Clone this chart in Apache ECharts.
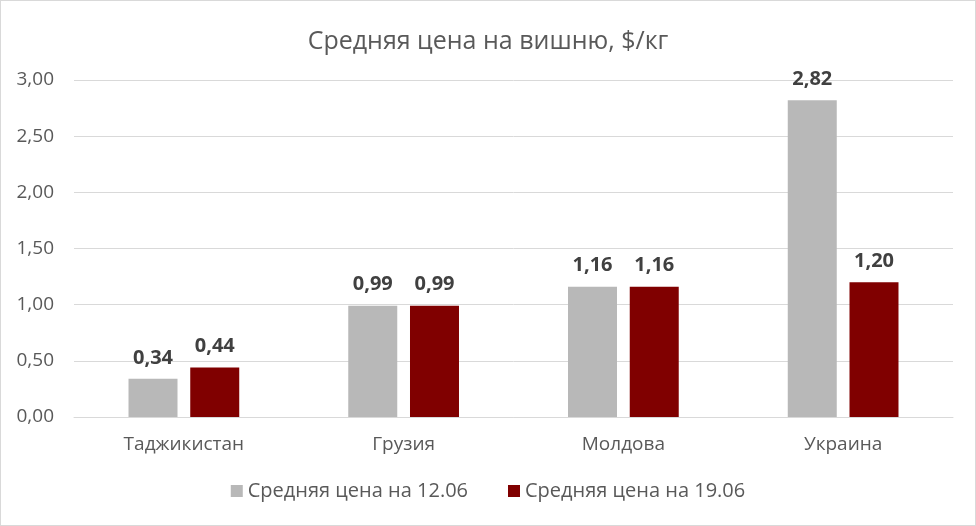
<!DOCTYPE html>
<html><head><meta charset="utf-8">
<script src="https://cdn.jsdelivr.net/npm/echarts@6/dist/echarts.min.js"></script>
<style>html,body{margin:0;padding:0;background:#fff}#c{width:976px;height:526px;box-sizing:border-box;border:1px solid #d9d9d9}</style>
</head><body><div id="c"></div>
<script>
const categories = ["Таджикистан", "Грузия", "Молдова", "Украина"];
const seriesNames = ["Средняя цена на 12.06", "Средняя цена на 19.06"];
const price1206 = [0.34, 0.99, 1.16, 2.82];
const price1906 = [0.44, 0.99, 1.16, 1.20];
const yTicks = [0, 0.5, 1, 1.5, 2, 2.5, 3];

const fmt = v => v.toFixed(2).replace('.', ',');
const FONT = 'Open Sans';
const labelStyle = { show: true, position: 'top', distance: 11, formatter: p => fmt(p.value),
  fontFamily: FONT, fontSize: 20, fontWeight: 'bold', color: '#404040' };
const chart = echarts.init(document.getElementById('c'));
chart.setOption({
  animation: false,
  textStyle: { fontFamily: FONT },
  title: { text: 'Средняя цена на вишню, $/кг', left: 'center', top: 23,
    textStyle: { fontFamily: FONT, fontSize: 25, fontWeight: 'normal', color: '#595959' } },
  legend: { bottom: 19, itemWidth: 12, itemHeight: 12, itemGap: 40, icon: 'rect',
    textStyle: { fontFamily: FONT, fontSize: 20, color: '#595959' }, data: seriesNames },
  grid: { left: 73, right: 22, top: 79, bottom: 108 },
  xAxis: { type: 'category', data: categories,
    axisLine: { lineStyle: { color: '#d9d9d9' } }, axisTick: { show: false },
    axisLabel: { fontFamily: FONT, fontSize: 19, color: '#595959', margin: 18 } },
  yAxis: { type: 'value', min: yTicks[0], max: yTicks[yTicks.length - 1], interval: 0.5,
    axisLine: { show: false }, axisTick: { show: false },
    splitLine: { lineStyle: { color: '#d9d9d9', width: 1 } },
    axisLabel: { fontFamily: FONT, fontSize: 19, color: '#595959', margin: 20, formatter: fmt } },
  series: [
    { name: seriesNames[0], type: 'bar', data: price1206, barWidth: 49, barGap: '26%',
      itemStyle: { color: '#b8b8b8' }, label: labelStyle },
    { name: seriesNames[1], type: 'bar', data: price1906, barWidth: 49,
      itemStyle: { color: '#800000' }, label: labelStyle }
  ]
});
</script></body></html>
